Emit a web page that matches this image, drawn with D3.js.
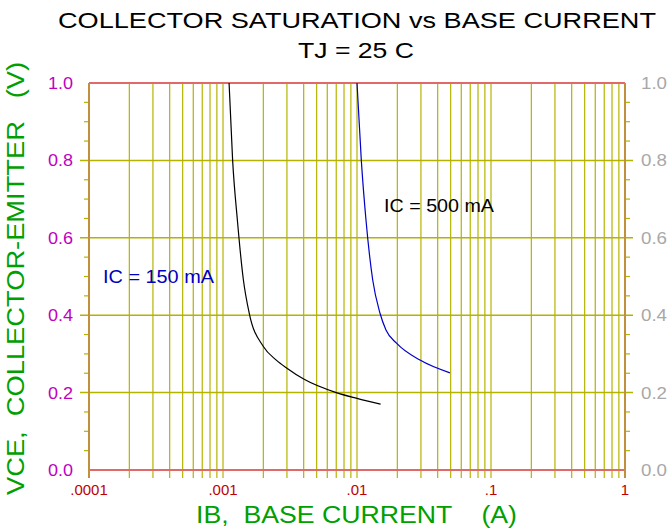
<!DOCTYPE html>
<html lang="en">
<head>
<meta charset="UTF-8">
<title>Collector saturation vs base current</title>
<script src="https://cdn.jsdelivr.net/npm/d3@7"></script>
<style>
    body{
        margin: 0;
        background-color: #ffffff;
        font-family: Arial, "Liberation Sans", sans-serif;
    }
</style>
</head>
<body>
<div id="chart"></div>
<script>
    var WIDTH = 670;
    var HEIGHT = 529;
    var MARGIN = {left: 89, right: 45, top: 83, bottom: 59};

    // IC = 150 mA curve
    var IB_150 = [0.00111, 0.00118, 0.00128, 0.00142, 0.00157, 0.0020, 0.0025, 0.0030, 0.0040, 0.0070, 0.0100, 0.0150];
    var VCE_150 = [1.0, 0.8, 0.646, 0.491, 0.405, 0.319, 0.284, 0.263, 0.235, 0.200, 0.185, 0.170];
    // IC = 500 mA curve
    var IB_500 = [0.0100, 0.01077, 0.01167, 0.0131, 0.01485, 0.01645, 0.0198, 0.0295, 0.0494];
    var VCE_500 = [1.0, 0.8, 0.646, 0.491, 0.405, 0.362, 0.327, 0.284, 0.251];

    var X_TICKS = [0.0001, 0.001, 0.01, 0.1, 1];
    var X_TICK_LABELS = [".0001", ".001", ".01", ".1", "1"];
    var Y_TICKS = [0, 0.2, 0.4, 0.6, 0.8, 1.0];
    var Y_MINOR = [0.05, 0.1, 0.15, 0.25, 0.3, 0.35, 0.45, 0.5, 0.55, 0.65, 0.7, 0.75, 0.85, 0.9, 0.95];

    var GRID_COLOR = "#b4b400";
    var AXIS_COLOR = "#c0903c";
    var BORDER_COLOR = "#e06a6a";

    var x = d3.scaleLog().domain([0.0001, 1]).range([MARGIN.left, WIDTH - MARGIN.right]);
    var y = d3.scaleLinear().domain([0, 1]).range([HEIGHT - MARGIN.bottom, MARGIN.top]);

    var svg = d3.select("#chart").append("svg")
        .attr("width", WIDTH)
        .attr("height", HEIGHT);

    var x0 = x.range()[0], x1 = x.range()[1];
    var y0 = y.range()[0], y1 = y.range()[1];

    // minor vertical grid lines (2..9 in each decade) plus the inner decades
    var minorX = [];
    for (var d = -4; d < 0; d++) {
        for (var k = 2; k <= 9; k++) minorX.push(k * Math.pow(10, d));
    }
    svg.append("g").selectAll("line").data(minorX.concat(X_TICKS.slice(1, 4))).enter().append("line")
        .attr("x1", function(v){ return x(v); })
        .attr("x2", function(v){ return x(v); })
        .attr("y1", y1)
        .attr("y2", y0 + 8)
        .attr("stroke", GRID_COLOR)
        .attr("stroke-width", 1.2);

    // horizontal major grid lines
    svg.append("g").selectAll("line").data(Y_TICKS.slice(1, 5)).enter().append("line")
        .attr("x1", x0 - 9)
        .attr("x2", x1 + 8)
        .attr("y1", function(v){ return y(v); })
        .attr("y2", function(v){ return y(v); })
        .attr("stroke", GRID_COLOR)
        .attr("stroke-width", 1.5);

    // minor y ticks on both sides
    var ticks = svg.append("g");
    ticks.selectAll("line.l").data(Y_MINOR).enter().append("line")
        .attr("class", "l")
        .attr("x1", x0 - 5).attr("x2", x0)
        .attr("y1", function(v){ return y(v); })
        .attr("y2", function(v){ return y(v); })
        .attr("stroke", GRID_COLOR).attr("stroke-width", 1.2);
    ticks.selectAll("line.r").data(Y_MINOR).enter().append("line")
        .attr("class", "r")
        .attr("x1", x1).attr("x2", x1 + 5)
        .attr("y1", function(v){ return y(v); })
        .attr("y2", function(v){ return y(v); })
        .attr("stroke", GRID_COLOR).attr("stroke-width", 1.2);

    // frame
    svg.append("line").attr("x1", x0).attr("x2", x1).attr("y1", y1).attr("y2", y1)
        .attr("stroke", BORDER_COLOR).attr("stroke-width", 2);
    svg.append("line").attr("x1", x0).attr("x2", x1).attr("y1", y0).attr("y2", y0)
        .attr("stroke", BORDER_COLOR).attr("stroke-width", 2);
    svg.append("line").attr("x1", x0).attr("x2", x0).attr("y1", y1).attr("y2", y0 + 8)
        .attr("stroke", AXIS_COLOR).attr("stroke-width", 2);
    svg.append("line").attr("x1", x1).attr("x2", x1).attr("y1", y1).attr("y2", y0 + 8)
        .attr("stroke", AXIS_COLOR).attr("stroke-width", 2);

    // tick labels
    svg.append("g").selectAll("text").data(X_TICKS).enter().append("text")
        .attr("x", function(v){ return x(v); })
        .attr("y", y0 + 25)
        .attr("text-anchor", "middle")
        .style("font-size", "15px")
        .style("fill", "#c00000")
        .text(function(v, i){ return X_TICK_LABELS[i]; });

    svg.append("g").selectAll("text").data(Y_TICKS).enter().append("text")
        .attr("x", x0 - 16)
        .attr("y", function(v){ return y(v) + 6; })
        .attr("text-anchor", "end")
        .attr("textLength", 25)
        .attr("lengthAdjust", "spacingAndGlyphs")
        .style("font-size", "16px")
        .style("fill", "#c000c0")
        .text(function(v){ return v.toFixed(1); });

    svg.append("g").selectAll("text").data(Y_TICKS).enter().append("text")
        .attr("x", x1 + 16)
        .attr("y", function(v){ return y(v) + 6; })
        .attr("text-anchor", "start")
        .attr("textLength", 26)
        .attr("lengthAdjust", "spacingAndGlyphs")
        .style("font-size", "16px")
        .style("fill", "#a8a8a8")
        .text(function(v){ return v.toFixed(1); });

    // curves
    var line = d3.line()
        .x(function(d){ return x(d[0]); })
        .y(function(d){ return y(d[1]); })
        .curve(d3.curveMonotoneX);

    svg.append("path")
        .datum(d3.zip(IB_150, VCE_150))
        .attr("d", line)
        .attr("fill", "none")
        .attr("stroke", "#000000")
        .attr("stroke-width", 1.2);

    svg.append("path")
        .datum(d3.zip(IB_500, VCE_500))
        .attr("d", line)
        .attr("fill", "none")
        .attr("stroke", "#0000c8")
        .attr("stroke-width", 1.2);

    svg.append("text")
        .attr("x", 384).attr("y", 212)
        .attr("textLength", 110)
        .attr("lengthAdjust", "spacingAndGlyphs")
        .style("font-size", "18px").style("fill", "#000000")
        .text("IC = 500 mA");
    svg.append("text")
        .attr("x", 103).attr("y", 283)
        .attr("textLength", 111)
        .attr("lengthAdjust", "spacingAndGlyphs")
        .style("font-size", "18px").style("fill", "#0000c0")
        .text("IC = 150 mA");

    // titles
    svg.append("text")
        .attr("x", 58).attr("y", 28)
        .attr("textLength", 598)
        .attr("lengthAdjust", "spacingAndGlyphs")
        .style("font-size", "22px")
        .text("COLLECTOR SATURATION vs BASE CURRENT");
    svg.append("text")
        .attr("x", 298).attr("y", 58)
        .attr("textLength", 116)
        .attr("lengthAdjust", "spacingAndGlyphs")
        .style("font-size", "22px")
        .text("TJ = 25 C");

    svg.append("text")
        .attr("x", 196).attr("y", 523)
        .attr("textLength", 321)
        .attr("lengthAdjust", "spacingAndGlyphs")
        .style("font-size", "23px")
        .style("fill", "#00a000")
        .style("white-space", "pre")
        .text("IB,  BASE CURRENT    (A)");

    svg.append("text")
        .attr("transform", "translate(24, 495) rotate(-90)")
        .attr("textLength", 433)
        .attr("lengthAdjust", "spacingAndGlyphs")
        .style("font-size", "23px")
        .style("fill", "#00a000")
        .style("white-space", "pre")
        .text("VCE,  COLLECTOR-EMITTER   (V)");
</script>
</body>
</html>
